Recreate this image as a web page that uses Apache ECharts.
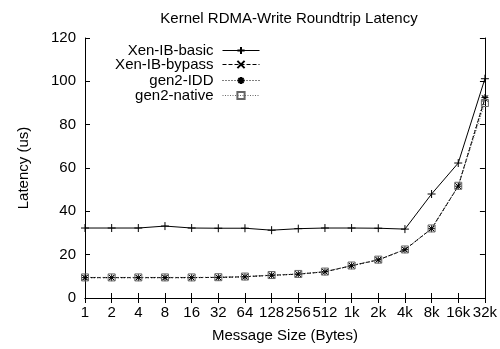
<!DOCTYPE html>
<html><head><meta charset="utf-8">
<script src="https://cdn.jsdelivr.net/npm/echarts@6/dist/echarts.min.js"></script>
<style>html,body{margin:0;padding:0;background:#fff}#c{width:500px;height:349px}</style>
</head><body><div id="c"></div>
<script>
var categories = ['1','2','4','8','16','32','64','128','256','512','1k','2k','4k','8k','16k','32k'];
var xenBasic  = [32.3,32.3,32.3,33.2,32.3,32.2,32.2,31.3,32.0,32.3,32.3,32.2,31.8,48.0,62.3,101.2];
var xenBypass = [9.4,9.4,9.4,9.4,9.4,9.5,9.8,10.5,11.0,12.1,14.9,17.6,22.3,32.0,51.6,92.0];
var gen2IDD   = [9.4,9.4,9.4,9.4,9.4,9.5,9.8,10.5,11.0,12.1,14.9,17.6,22.3,32.0,51.6,92.5];
var gen2Native= [9.5,9.5,9.5,9.5,9.5,9.6,9.9,10.6,11.1,12.2,15.0,17.7,22.4,32.1,51.8,90.0];
var seriesNames = ['Xen-IB-basic','Xen-IB-bypass','gen2-IDD','gen2-native'];
var yTicks = {min:0, max:120, interval:20};

var F = 'Liberation Sans, Arial, sans-serif';
var FS = 15;
var plus = 'path://M0,5H10M5,0V10';
var cross = 'path://M0,0L10,10M10,0L0,10';
var star = 'path://M0,5H10M5,0V10M1.5,1.5L8.5,8.5M8.5,1.5L1.5,8.5';
var square = 'path://M0,0H10V10H0Z';

function mk(name, data, symbol, size, lineType, color){
  return {name:name, type:'line', data:data, symbol:symbol, symbolSize:size,
    showAllSymbol:true, animation:false,
    lineStyle:{color:color, width:1, type:lineType},
    itemStyle:{color: symbol===square ? 'rgba(0,0,0,0)' : color, borderColor:color, borderWidth:1}};
}

var legendTops = [43, 57, 73, 88];
var legends = seriesNames.map(function(n, i){
  return {orient:'vertical', align:'right', right:240, top:legendTops[i], padding:0,
    itemWidth:37, itemHeight:9, data:[n],
    lineStyle:{width:1},
    textStyle:{fontFamily:F, fontSize:FS, color:'#000', padding:[0,4,0,0]}};
});

var chart = echarts.init(document.getElementById('c'), null, {renderer:'canvas'});
chart.setOption({
  animation:false,
  title:{text:'Kernel RDMA-Write Roundtrip Latency', left:284, textAlign:'center', top:6,
    textStyle:{fontFamily:F, fontSize:FS, fontWeight:'normal', color:'#000'}},
  legend:legends,
  grid:{left:85, right:15, top:38, bottom:51},
  xAxis:[{type:'category', data:categories, boundaryGap:false,
    name:'Message Size (Bytes)', nameLocation:'middle', nameGap:30,
    nameTextStyle:{fontFamily:F, fontSize:FS, color:'#000'},
    axisLine:{lineStyle:{color:'#000', width:1}},
    axisTick:{inside:true, length:5, alignWithLabel:true, interval:0, lineStyle:{color:'#000'}},
    axisLabel:{interval:0, fontFamily:F, fontSize:FS, color:'#000', margin:7},
    splitLine:{show:false}},
   {type:'category', data:categories, boundaryGap:false, position:'top',
    axisLine:{lineStyle:{color:'#000', width:1}},
    axisTick:{inside:true, length:5, interval:0, lineStyle:{color:'#000'}},
    axisLabel:{show:false}, splitLine:{show:false}}],
  yAxis:[{type:'value', min:yTicks.min, max:yTicks.max, interval:yTicks.interval,
    name:'Latency (us)', nameLocation:'middle', nameGap:54,
    nameTextStyle:{fontFamily:F, fontSize:FS, color:'#000'},
    axisLine:{show:true, lineStyle:{color:'#000', width:1}},
    axisTick:{show:true, inside:true, length:5, lineStyle:{color:'#000'}},
    axisLabel:{fontFamily:F, fontSize:FS, color:'#000', margin:9},
    splitLine:{show:false}},
   {type:'value', min:yTicks.min, max:yTicks.max, interval:yTicks.interval, position:'right',
    axisLine:{show:true, lineStyle:{color:'#000', width:1}},
    axisTick:{show:true, inside:true, length:5, lineStyle:{color:'#000'}},
    axisLabel:{show:false}, splitLine:{show:false}}],
  series:[
    mk(seriesNames[0], xenBasic, plus, 8, 'solid', '#000'),
    mk(seriesNames[1], xenBypass, cross, 6, [4,2], '#000'),
    mk(seriesNames[2], gen2IDD, star, 7, [1,2], '#000'),
    mk(seriesNames[3], gen2Native, square, 7, [1,1.5], '#666')
  ]
});
</script></body></html>
